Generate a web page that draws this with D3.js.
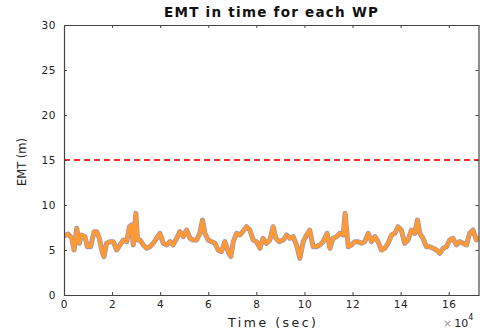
<!DOCTYPE html>
<html><head><meta charset="utf-8">
<script src="https://cdn.jsdelivr.net/npm/d3@7"></script>
<style>html,body{margin:0;padding:0;background:#fff;}svg{display:block;}text{font-family:"DejaVu Sans",sans-serif;}</style>
</head><body><div id="chart"></div>
<script>
// time in units of 1e4 seconds
const timeE4 = [0.00,0.18,0.32,0.42,0.53,0.64,0.73,0.87,0.97,1.11,1.25,1.36,1.47,1.57,1.66,1.77,1.91,2.05,2.19,2.33,2.47,2.61,2.72,2.81,2.88,2.99,3.06,3.16,3.30,3.44,3.57,3.71,3.85,3.99,4.13,4.27,4.41,4.54,4.68,4.82,4.96,5.10,5.24,5.37,5.51,5.65,5.76,5.86,6.00,6.14,6.28,6.41,6.55,6.69,6.83,6.94,7.04,7.18,7.32,7.59,7.73,7.87,8.01,8.15,8.28,8.42,8.56,8.70,8.81,8.95,9.12,9.26,9.39,9.53,9.67,9.81,9.95,10.09,10.22,10.36,10.50,10.64,10.78,10.94,11.06,11.19,11.33,11.47,11.61,11.69,11.82,11.96,12.09,12.23,12.37,12.51,12.65,12.79,12.93,13.06,13.20,13.34,13.48,13.62,13.76,13.89,14.03,14.17,14.31,14.45,14.59,14.70,14.80,14.93,15.07,15.21,15.35,15.49,15.63,15.77,15.91,16.04,16.18,16.32,16.46,16.60,16.74,16.87,17.01,17.15,17.26];
const emt = [6.56,6.78,6.30,5.00,7.41,5.74,6.67,6.48,5.37,5.37,7.04,7.04,6.30,5.00,4.26,5.74,5.93,5.93,5.00,5.56,6.11,5.93,7.59,7.78,5.56,9.07,6.11,6.11,5.56,5.19,5.37,5.74,6.30,6.85,5.74,5.56,5.93,5.56,6.30,7.04,6.48,7.22,6.30,6.11,6.11,6.85,8.33,6.85,6.11,5.93,5.74,5.00,4.81,5.93,4.81,4.26,5.93,6.85,6.67,7.59,7.22,6.11,5.93,5.19,6.30,5.74,6.11,7.59,6.30,5.93,6.11,6.67,6.30,6.48,5.56,4.07,5.93,6.67,7.22,5.37,5.37,5.56,5.93,6.85,5.19,6.30,6.48,6.85,6.67,9.07,5.37,5.56,5.93,5.93,5.74,5.93,6.85,5.93,6.48,5.93,5.00,5.19,5.74,6.67,6.85,7.59,7.22,5.74,6.11,7.22,6.85,8.33,6.85,6.30,5.37,5.37,5.19,5.00,4.63,5.19,5.37,6.11,6.30,5.56,5.93,5.74,5.56,6.85,7.22,6.11,6.48];
const thresholdValue = 15;
const xTicks = [0,2,4,6,8,10,12,14,16];
const yTicks = [0,5,10,15,20,25,30];
const titleText = "EMT in time for each WP";
const xLabel = "Time (sec)";
const yLabel = "EMT (m)";

const W = 480, H = 331;
const m = {left: 64, right: 1, top: 25, bottom: 36};
const svg = d3.select("#chart").append("svg").attr("width", W).attr("height", H);
const x = d3.scaleLinear().domain([0, 17.26]).range([m.left, W - m.right]);
const y = d3.scaleLinear().domain([0, 30]).range([H - m.bottom, m.top]);
const axisColor = "#444";

svg.append("defs").append("clipPath").attr("id","clip")
  .append("rect").attr("x", m.left).attr("y", m.top).attr("width", W - m.right - m.left).attr("height", H - m.bottom - m.top);

// threshold line
svg.append("line").attr("x1", x(0)).attr("x2", x(17.26)).attr("y1", y(thresholdValue)).attr("y2", y(thresholdValue))
  .attr("stroke", "#ff2a2a").attr("stroke-width", 2).attr("stroke-dasharray", "6,4");

const pts = timeE4.map((t, i) => [t, emt[i]]);
const line = d3.line().x(d => x(d[0])).y(d => y(d[1]));
const g = svg.append("g").attr("clip-path", "url(#clip)");
g.append("path").datum(pts).attr("d", line).attr("fill","none").attr("stroke","#8f95c8").attr("stroke-width",5).attr("stroke-linejoin","round");
g.append("path").datum(pts).attr("d", line).attr("fill","none").attr("stroke","#ff9933").attr("stroke-width",3.8).attr("stroke-linejoin","round");

// axes
const tick = 3;
const xb = d3.axisBottom(x).tickValues(xTicks).tickSizeInner(-tick).tickSizeOuter(0).tickPadding(6).tickFormat(d3.format("d"));
const yl = d3.axisLeft(y).tickValues(yTicks).tickSizeInner(-tick).tickSizeOuter(0).tickPadding(8).tickFormat(d3.format("d"));
const gx = svg.append("g").attr("transform", `translate(0,${y(0)})`).call(xb);
const gy = svg.append("g").attr("transform", `translate(${x(0)},0)`).call(yl);
const gxt = svg.append("g").attr("transform", `translate(0,${y(30)})`).call(d3.axisTop(x).tickValues(xTicks).tickSizeInner(-tick).tickSizeOuter(0).tickFormat(""));
const gyr = svg.append("g").attr("transform", `translate(${W - m.right - 0.5},0)`).call(d3.axisRight(y).tickValues(yTicks).tickSizeInner(-tick).tickSizeOuter(0).tickFormat(""));
[gx, gy, gxt, gyr].forEach(a => {
  a.selectAll("path,line").attr("stroke", axisColor);
  a.select(".domain").attr("stroke-width", 1.2);
  a.selectAll("text").attr("fill", "#222").style("font-family", "'DejaVu Sans',sans-serif").style("font-size", "10.5px").attr("letter-spacing", "0.6");
});

// title
svg.append("text").attr("x", 271).attr("y", 17).attr("text-anchor","middle")
  .attr("font-weight","bold").attr("font-size", 13.5).attr("fill","#111")
  .attr("textLength", 214).attr("lengthAdjust","spacing").text(titleText);
// x label
svg.append("text").attr("x", 272).attr("y", 327).attr("text-anchor","middle")
  .attr("font-size", 12.5).attr("fill","#222").attr("textLength", 88).attr("lengthAdjust","spacing").text(xLabel);
// y label
svg.append("text").attr("transform", "translate(26,162) rotate(-90)").attr("text-anchor","middle")
  .attr("font-size", 11.5).attr("fill","#222").text(yLabel);
// exponent
const ex = svg.append("text").attr("x", 443).attr("y", 327).attr("font-size", 11).attr("fill","#222");
ex.append("tspan").attr("fill","#999").text("\u00d7");
ex.append("tspan").attr("dx", 2).text("10");
ex.append("tspan").attr("dy", -7).attr("font-size", 8).text("4");
</script></body></html>
